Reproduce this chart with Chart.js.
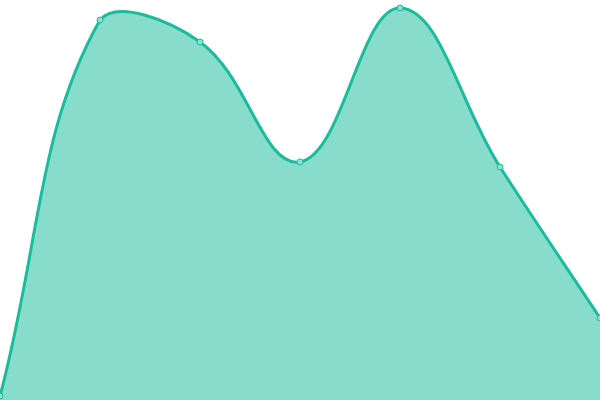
<!DOCTYPE html>
<html>
<head>
<meta charset="utf-8">
<style>
  html, body { margin: 0; padding: 0; background: #fff; }
  #wrap { width: 600px; height: 400px; }
</style>
<script src="https://cdn.jsdelivr.net/npm/chart.js@4/dist/chart.umd.min.js"></script>
</head>
<body>
<div id="wrap"><canvas id="graph"></canvas></div>
<script>
var labels = ["1", "2", "3", "4", "5", "6", "7"];
var values = [1, 95, 89.5, 59.5, 98, 58.25, 20.5];

var context = document.querySelector('#graph').getContext('2d');
var chart = new Chart(context, {
  type: 'line',
  data: {
    labels: labels,
    datasets: [{
      data: values,
      fill: true,
      tension: 0.4,
      borderColor: "#1abc9c",
      backgroundColor: "rgba(26,188,156,0.52)",
      borderWidth: 3,
      pointRadius: 3,
      pointBorderWidth: 1,
      pointBorderColor: "#1abc9c",
      pointBackgroundColor: "#8de0cf"
    }]
  },
  options: {
    responsive: true,
    maintainAspectRatio: false,
    animation: false,
    layout: { padding: 0, autoPadding: false },
    plugins: {
      legend: { display: false },
      tooltip: { enabled: false }
    },
    scales: {
      x: { display: false },
      y: { display: false, min: 0, max: 100 }
    }
  }
});
</script>
</body>
</html>
